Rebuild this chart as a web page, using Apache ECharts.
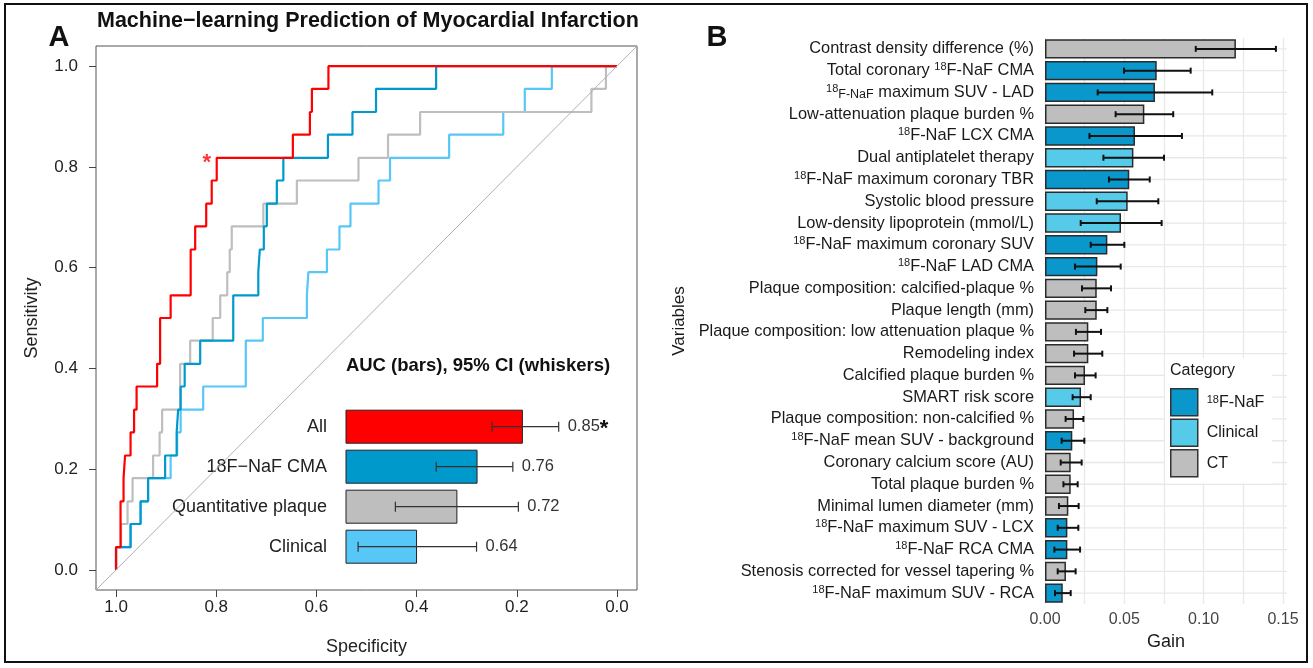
<!DOCTYPE html>
<html>
<head>
<meta charset="utf-8">
<script src="https://cdn.jsdelivr.net/npm/echarts@6/dist/echarts.min.js"></script>
<style>
* { padding: 0; margin: 0; }
#chart { width: 1313px; height: 668px; background: #fff; }
</style>
</head>
<body>
<div id="chart"></div>
<script>
const FONT = '"Liberation Sans", Arial, Helvetica, sans-serif';

// ROC curves, [specificity, sensitivity] at the top of each step
const rocAll = [[1,0],[1,0.045],[0.991,0.136],[0.985,0.182],[0.982,0.227],[0.971,0.273],[0.964,0.318],[0.959,0.364],[0.918,0.409],[0.912,0.5],[0.891,0.545],[0.851,0.636],[0.842,0.682],[0.820,0.727],[0.809,0.773],[0.799,0.818],[0.647,0.864],[0.613,0.909],[0.609,0.955],[0.576,1],[0,1]];
const rocCMA = [[1,0],[1,0.045],[0.971,0.091],[0.951,0.136],[0.936,0.182],[0.902,0.227],[0.879,0.273],[0.876,0.318],[0.871,0.364],[0.863,0.409],[0.832,0.455],[0.766,0.545],[0.716,0.591],[0.713,0.636],[0.705,0.682],[0.699,0.727],[0.679,0.773],[0.666,0.818],[0.577,0.864],[0.528,0.909],[0.481,0.955],[0.361,1],[0,1]];
const rocPlaque = [[1,0],[1,0.045],[0.990,0.091],[0.977,0.136],[0.967,0.182],[0.926,0.227],[0.913,0.273],[0.908,0.318],[0.872,0.409],[0.852,0.455],[0.807,0.5],[0.792,0.545],[0.778,0.591],[0.773,0.636],[0.769,0.682],[0.706,0.727],[0.639,0.773],[0.516,0.818],[0.457,0.864],[0.393,0.909],[0.051,0.955],[0.022,1],[0,1]];
const rocClinical = [[1,0],[1,0.045],[0.971,0.091],[0.951,0.136],[0.936,0.182],[0.891,0.227],[0.878,0.273],[0.871,0.318],[0.826,0.364],[0.741,0.455],[0.707,0.5],[0.619,0.545],[0.616,0.591],[0.579,0.636],[0.554,0.682],[0.532,0.727],[0.476,0.773],[0.453,0.818],[0.335,0.864],[0.227,0.909],[0.184,0.955],[0.130,1],[0,1]];
const bestPoint = [0.799, 0.818];
const rocTicks = [0, 0.2, 0.4, 0.6, 0.8, 1];
const AX_MIN = -0.04, AX_MAX = 1.04;

// inset: AUC bars with 95% CI
const aucNames = ['All', '18F\u2212NaF CMA', 'Quantitative plaque', 'Clinical'];
const aucValues = [0.85, 0.76, 0.72, 0.64];
const aucLow = [0.790, 0.679, 0.598, 0.524];
const aucHigh = [0.922, 0.831, 0.842, 0.759];
const aucColors = ['#ff0000', '#0099cc', '#bebebe', '#57c7f7'];

// panel B: variable importance
const varNames = [
  'Contrast density difference (%)',
  'Total coronary 18F-NaF CMA',
  '18F-NaF maximum SUV - LAD',
  'Low-attenuation plaque burden %',
  '18F-NaF LCX CMA',
  'Dual antiplatelet therapy',
  '18F-NaF maximum coronary TBR',
  'Systolic blood pressure',
  'Low-density lipoprotein (mmol/L)',
  '18F-NaF maximum coronary SUV',
  '18F-NaF LAD CMA',
  'Plaque composition: calcified-plaque %',
  'Plaque length (mm)',
  'Plaque composition: low attenuation plaque %',
  'Remodeling index',
  'Calcified plaque burden %',
  'SMART risk score',
  'Plaque composition: non-calcified %',
  '18F-NaF mean SUV - background',
  'Coronary calcium score (AU)',
  'Total plaque burden %',
  'Minimal lumen diameter (mm)',
  '18F-NaF maximum SUV - LCX',
  '18F-NaF RCA CMA',
  'Stenosis corrected for vessel tapering %',
  '18F-NaF maximum SUV - RCA'
];
const varCategory = ['CT','18F-NaF','18F-NaF','CT','18F-NaF','Clinical','18F-NaF','Clinical','Clinical','18F-NaF','18F-NaF','CT','CT','CT','CT','CT','Clinical','CT','18F-NaF','CT','CT','CT','18F-NaF','18F-NaF','CT','18F-NaF'];
const gainValues = [0.1203,0.0704,0.0693,0.0626,0.0567,0.0557,0.0531,0.0521,0.0479,0.0393,0.0330,0.0326,0.0326,0.0273,0.0273,0.0252,0.0227,0.0183,0.0172,0.0162,0.0162,0.0147,0.0141,0.0141,0.0132,0.0112];
const gainLow = [0.0950,0.0498,0.0332,0.0445,0.0280,0.0368,0.0403,0.0326,0.0225,0.0288,0.0189,0.0233,0.0254,0.0195,0.0183,0.0189,0.0174,0.0130,0.0105,0.0099,0.0116,0.0088,0.0080,0.0059,0.0080,0.0063];
const gainHigh = [0.1455,0.0918,0.1054,0.0808,0.0863,0.0750,0.0660,0.0714,0.0735,0.0500,0.0477,0.0416,0.0393,0.0353,0.0361,0.0319,0.0288,0.0242,0.0248,0.0231,0.0206,0.0212,0.0210,0.0221,0.0193,0.0162];
const gainTicks = [0, 0.05, 0.1, 0.15];

const categories = ['18F-NaF', 'Clinical', 'CT'];
const catColors = { '18F-NaF': '#0a97cc', 'Clinical': '#56cbe9', 'CT': '#bebebe' };

const supRich = {
  sup: { fontSize: 11, lineHeight: 10, verticalAlign: 'top', fontFamily: FONT, color: '#1a1a1a' },
  sm: { fontSize: 12.5, lineHeight: 15, verticalAlign: 'bottom', fontFamily: FONT, color: '#1a1a1a' }
};

function varLabel(name) {
  if (name === '18F-NaF maximum SUV - LAD') {
    return '{sup|18}{sm|F-NaF} maximum SUV - LAD';
  }
  return name.replace('18F', '{sup|18}F');
}

const chart = echarts.init(document.getElementById('chart'));

const rocLine = (name, data, color) => ({
  name: name,
  type: 'line',
  xAxisIndex: 0,
  yAxisIndex: 0,
  data: data,
  step: 'end',
  symbol: 'none',
  lineStyle: { color: color, width: 2.2 },
  itemStyle: { color: color },
  z: 3
});

const option = {
  animation: false,
  textStyle: { fontFamily: FONT },
  grid: [
    { left: 96, top: 46, width: 541, height: 544, show: true, borderColor: '#555', borderWidth: 1 },
    { left: 346, top: 406.7, width: 252, height: 160 },
    { left: 1045, top: 38, width: 242, height: 566 }
  ],
  xAxis: [
    {
      gridIndex: 0, type: 'value', inverse: true, min: AX_MIN, max: AX_MAX,
      name: 'Specificity', nameLocation: 'middle', nameGap: 48,
      nameTextStyle: { fontSize: 18, color: '#222', fontFamily: FONT },
      axisLine: { show: false, onZero: false },
      axisTick: { show: true, length: 7, customValues: rocTicks, lineStyle: { color: '#444' } },
      axisLabel: { customValues: rocTicks, formatter: v => v.toFixed(1), fontSize: 17, color: '#222', margin: 9 },
      splitLine: { show: false }
    },
    { gridIndex: 1, type: 'value', min: 0.5, max: 1.0, show: false },
    {
      gridIndex: 2, type: 'value', min: 0, max: 0.1525, interval: 0.025,
      name: 'Gain', nameLocation: 'middle', nameGap: 27,
      nameTextStyle: { fontSize: 18, color: '#1a1a1a', fontFamily: FONT },
      axisLine: { show: false, onZero: false },
      axisTick: { show: false },
      axisLabel: { customValues: gainTicks, formatter: v => v.toFixed(2), fontSize: 16, color: '#444', margin: 8 },
      splitLine: { show: true, showMaxLine: false, lineStyle: { color: '#e8e8e8', width: 1.3 } }
    }
  ],
  yAxis: [
    {
      gridIndex: 0, type: 'value', min: AX_MIN, max: AX_MAX,
      name: 'Sensitivity', nameLocation: 'middle', nameGap: 55,
      nameTextStyle: { fontSize: 18, color: '#222', fontFamily: FONT },
      axisLine: { show: false, onZero: false },
      axisTick: { show: true, length: 7, customValues: rocTicks, lineStyle: { color: '#444' } },
      axisLabel: { customValues: rocTicks, formatter: v => v.toFixed(1), fontSize: 17, color: '#222', margin: 18 },
      splitLine: { show: false }
    },
    {
      gridIndex: 1, type: 'category', inverse: true, data: aucNames,
      axisLine: { show: false, onZero: false }, axisTick: { show: false },
      axisLabel: { fontSize: 18, color: '#222', margin: 19, interval: 0 }
    },
    {
      gridIndex: 2, type: 'category', inverse: true, data: varNames,
      name: 'Variables', nameLocation: 'middle', nameGap: 357,
      nameTextStyle: { fontSize: 17, color: '#1a1a1a', fontFamily: FONT },
      axisLine: { show: false, onZero: false }, axisTick: { show: false },
      splitLine: { show: false },
      axisLabel: {
        interval: 0, fontSize: 16.4, lineHeight: 18, color: '#1a1a1a', margin: 11,
        formatter: varLabel, rich: supRich
      }
    }
  ],
  legend: {
    data: categories,
    left: 1165, top: 358,
    orient: 'vertical',
    padding: [30, 8, 6, 5],
    backgroundColor: '#fff',
    icon: 'rect',
    itemWidth: 27, itemHeight: 27, itemGap: 2,
    itemStyle: { borderColor: '#333', borderWidth: 1.5 },
    selectedMode: false,
    formatter: n => n === '18F-NaF' ? '{sup|18}F-NaF' : n,
    textStyle: {
      fontSize: 16, color: '#1a1a1a', fontFamily: FONT, padding: [0, 0, 0, 4],
      rich: { sup: { fontSize: 11, lineHeight: 10, verticalAlign: 'top', fontFamily: FONT, color: '#1a1a1a' } }
    }
  },
  graphic: [
    { type: 'rect', silent: true, z: 100, shape: { x: 5, y: 4, width: 1302, height: 658 }, style: { fill: 'none', stroke: '#111', lineWidth: 2 } },
    { type: 'text', silent: true, z: 100, x: 59, y: 38, style: { text: 'A', font: 'bold 29px ' + FONT, fill: '#111', textAlign: 'center', textVerticalAlign: 'middle' } },
    { type: 'text', silent: true, z: 100, x: 717, y: 38, style: { text: 'B', font: 'bold 29px ' + FONT, fill: '#111', textAlign: 'center', textVerticalAlign: 'middle' } },
    { type: 'text', silent: true, z: 100, x: 97, y: 21, style: { text: 'Machine\u2212learning Prediction of Myocardial Infarction', font: 'bold 21.5px ' + FONT, fill: '#111', textAlign: 'left', textVerticalAlign: 'middle' } },
    { type: 'text', silent: true, z: 100, x: 478, y: 366, style: { text: 'AUC (bars), 95% CI (whiskers)', font: 'bold 18.5px ' + FONT, fill: '#111', textAlign: 'center', textVerticalAlign: 'middle' } },
    { type: 'text', silent: true, z: 100, x: 1170, y: 371, style: { text: 'Category', font: '16px ' + FONT, fill: '#1a1a1a', textAlign: 'left', textVerticalAlign: 'middle' } }
  ],
  series: [
    Object.assign(rocLine('ROC clinical', rocClinical, '#57c7f7'), {
      markLine: {
        silent: true, symbol: ['none', 'none'], label: { show: false },
        lineStyle: { color: '#b0b0b0', width: 1, type: 'solid' },
        data: [[{ coord: [AX_MAX, AX_MIN] }, { coord: [AX_MIN, AX_MAX] }]]
      }
    }),
    rocLine('ROC plaque', rocPlaque, '#bebebe'),
    rocLine('ROC CMA', rocCMA, '#0099cc'),
    rocLine('ROC all', rocAll, '#ff0000'),
    {
      name: 'best threshold', type: 'scatter', xAxisIndex: 0, yAxisIndex: 0,
      data: [bestPoint], symbolSize: 2, itemStyle: { color: 'rgba(0,0,0,0)' }, z: 5,
      label: { show: true, formatter: '*', position: 'inside', offset: [-10, 5], color: '#ff0000', fontSize: 22, fontWeight: 'bold' }
    },
    {
      name: 'AUC', type: 'custom', xAxisIndex: 1, yAxisIndex: 1,
      data: aucValues.map((v, i) => [v, aucLow[i], aucHigh[i], i]),
      encode: { x: [0, 1, 2], y: 3 },
      z: 6,
      renderItem: (params, api) => {
        const i = api.value(3);
        const base = api.coord([0.5, i]);
        const end = api.coord([api.value(0), i]);
        const lo = api.coord([api.value(1), i]);
        const hi = api.coord([api.value(2), i]);
        const h = 33;
        const y = base[1];
        const txt = api.value(0).toFixed(2) + (i === 0 ? '{s|*}' : '');
        return {
          type: 'group',
          children: [
            { type: 'rect', shape: { x: base[0], y: y - h / 2, width: end[0] - base[0], height: h },
              style: { fill: aucColors[i], stroke: '#222', lineWidth: 1 } },
            { type: 'line', shape: { x1: lo[0], y1: y, x2: hi[0], y2: y }, style: { stroke: '#333', lineWidth: 1.2 } },
            { type: 'line', shape: { x1: lo[0], y1: y - 5, x2: lo[0], y2: y + 5 }, style: { stroke: '#333', lineWidth: 1.2 } },
            { type: 'line', shape: { x1: hi[0], y1: y - 5, x2: hi[0], y2: y + 5 }, style: { stroke: '#333', lineWidth: 1.2 } },
            { type: 'text', x: hi[0] + 9, y: y,
              style: { text: txt, font: '16.5px ' + FONT, fill: '#333', textAlign: 'left', textVerticalAlign: 'middle',
                rich: { s: { fontSize: 22, fontWeight: 'bold', lineHeight: 14, verticalAlign: 'top', fill: '#111', fontFamily: FONT } } } }
          ]
        };
      }
    },
    {
      name: 'row grid', type: 'custom', xAxisIndex: 2, yAxisIndex: 2, silent: true, z: 1,
      data: varNames.map((n, i) => [0, i]),
      encode: { x: 0, y: 1 },
      renderItem: (params, api) => {
        const y = api.coord([0, api.value(1)])[1];
        const cs = params.coordSys;
        return { type: 'line', shape: { x1: cs.x, y1: y, x2: cs.x + cs.width, y2: y }, style: { stroke: '#e8e8e8', lineWidth: 1.3 } };
      }
    },
    ...categories.map(cat => ({
      name: cat, type: 'bar', xAxisIndex: 2, yAxisIndex: 2,
      barWidth: '89%', barGap: '-100%', z: 3,
      data: gainValues.map((v, i) => varCategory[i] === cat ? v : '-'),
      itemStyle: { color: catColors[cat], borderColor: '#2b2b2b', borderWidth: 1.5 }
    })),
    {
      name: 'gain CI', type: 'custom', xAxisIndex: 2, yAxisIndex: 2, z: 6,
      data: gainValues.map((v, i) => [gainLow[i], gainHigh[i], i]),
      encode: { x: [0, 1], y: 2 },
      renderItem: (params, api) => {
        const i = api.value(2);
        const lo = api.coord([api.value(0), i]);
        const hi = api.coord([api.value(1), i]);
        const s = { stroke: '#111', lineWidth: 2 };
        return {
          type: 'group',
          children: [
            { type: 'line', shape: { x1: lo[0], y1: lo[1], x2: hi[0], y2: hi[1] }, style: s },
            { type: 'line', shape: { x1: lo[0], y1: lo[1] - 3, x2: lo[0], y2: lo[1] + 3 }, style: s },
            { type: 'line', shape: { x1: hi[0], y1: hi[1] - 3, x2: hi[0], y2: hi[1] + 3 }, style: s }
          ]
        };
      }
    }
  ]
};

chart.setOption(option);
</script>
</body>
</html>
